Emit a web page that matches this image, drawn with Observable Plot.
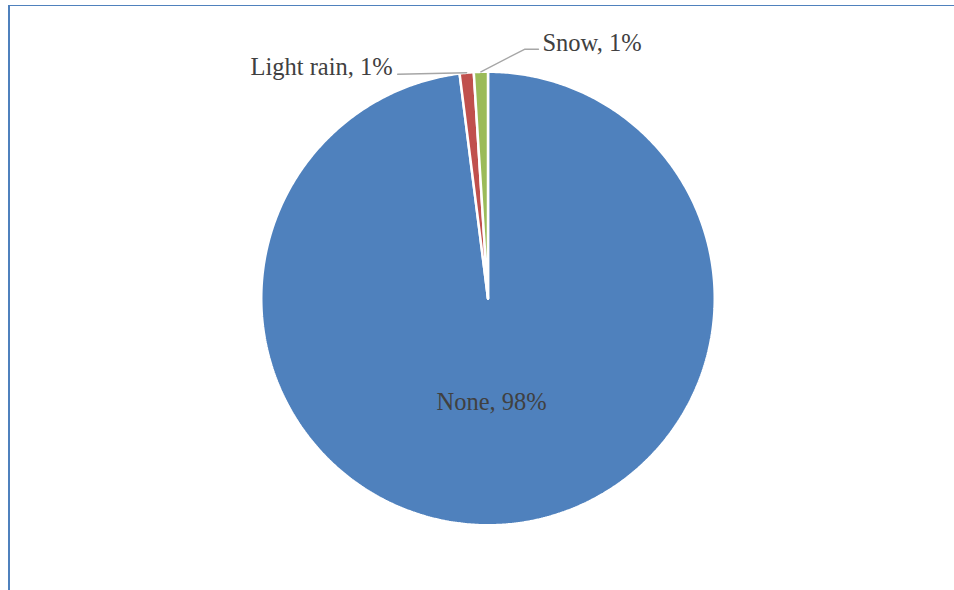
<!DOCTYPE html>
<html>
<head>
<meta charset="utf-8">
<script src="https://cdn.jsdelivr.net/npm/d3@7"></script>
<script src="https://cdn.jsdelivr.net/npm/@observablehq/plot@0.6"></script>
<style>
  html, body { margin: 0; padding: 0; background: #fff; }
  #wrap { position: relative; width: 954px; height: 590px; overflow: hidden; }
  #frame {
    position: absolute; left: 8px; top: 5px; right: -4px; bottom: -4px;
    border-left: 2px solid #4F81BD; border-top: 1.5px solid #4F81BD;
    pointer-events: none;
  }
  #chart { position: absolute; left: 0; top: 0; }
</style>
</head>
<body>
<div id="wrap"><div id="chart"></div><div id="frame"></div></div>
<script>
// Precipitation type shares
const categories = ["None", "Light rain", "Snow"];
const shares = [98, 1, 1];
const colors = ["#4F81BD", "#C0504D", "#9BBB59"];

const rows = categories.map((name, i) => ({name, share: shares[i]}));

// Pie geometry (pixels)
const cx = 487.5, cy = 298, R = 226.75;
const FONT = "'Liberation Serif', 'Times New Roman', serif", SIZE = 24.5;

// Slices, clockwise from 12 o'clock, in unit-circle coordinates
const arcs = d3.pie().sort(null).value(d => d.share)(rows);
const slicePts = [];
for (const a of arcs) {
  const n = Math.max(2, Math.ceil((a.endAngle - a.startAngle) / (Math.PI / 360)));
  slicePts.push({name: a.data.name, x: 0, y: 0});
  for (let k = 0; k <= n; k++) {
    const t = a.startAngle + (a.endAngle - a.startAngle) * k / n;
    slicePts.push({name: a.data.name, x: Math.sin(t), y: Math.cos(t)});
  }
  slicePts.push({name: a.data.name, x: 0, y: 0});
}
const mid = a => (a.startAngle + a.endAngle) / 2;
const pct = a => `${a.data.name}, ${a.data.share}%`;

// Inside label for the large slice, near its centroid
const inside = arcs.filter(a => a.data.share >= 10).map(a => ({
  text: pct(a), x: 0.46 * Math.sin(mid(a)) - 3 / R, y: 0.46 * Math.cos(mid(a))
}));

// Callout layout for thin slices: leader path and text offsets in pixels from the rim point
const callout = {
  "Light rain": {path: [[-69, 1.5]], text: [-74, -5.2], anchor: "end"},
  "Snow": {path: [[43.6, -22.6], [57.6, -22.6]], text: [61.6, -28.3], anchor: "start"}
};
const leaders = [], outside = [];
for (const a of arcs) {
  const c = callout[a.data.name];
  if (!c) continue;
  const ax = Math.sin(mid(a)), ay = Math.cos(mid(a));
  leaders.push({name: a.data.name, x: ax, y: ay});
  for (const [dx, dy] of c.path) leaders.push({name: a.data.name, x: ax + dx / R, y: ay - dy / R});
  outside.push({text: pct(a), anchor: c.anchor, x: ax + c.text[0] / R, y: ay - c.text[1] / R});
}

const chart = Plot.plot({
  width: 954,
  height: 590,
  margin: 0,
  style: {fontFamily: FONT, background: "transparent"},
  x: {domain: [-1, 1], range: [cx - R, cx + R], axis: null},
  y: {domain: [-1, 1], range: [cy + R, cy - R], axis: null},
  color: {domain: categories, range: colors},
  marks: [
    Plot.line(slicePts, {x: "x", y: "y", z: "name", fill: "name", stroke: "white",
      strokeWidth: 2.5, strokeLinejoin: "miter", curve: "linear"}),
    Plot.line(leaders, {x: "x", y: "y", z: "name", stroke: "#A6A6A6", strokeWidth: 1.4}),
    Plot.text(inside, {x: "x", y: "y", text: "text", fontSize: SIZE, fill: "#404040", fontFamily: FONT}),
    Plot.text(outside.filter(d => d.anchor === "end"), {x: "x", y: "y", text: "text", textAnchor: "end",
      fontSize: SIZE, fill: "#404040", fontFamily: FONT}),
    Plot.text(outside.filter(d => d.anchor === "start"), {x: "x", y: "y", text: "text", textAnchor: "start",
      fontSize: SIZE, fill: "#404040", fontFamily: FONT})
  ]
});
document.getElementById("chart").appendChild(chart);
</script>
</body>
</html>
